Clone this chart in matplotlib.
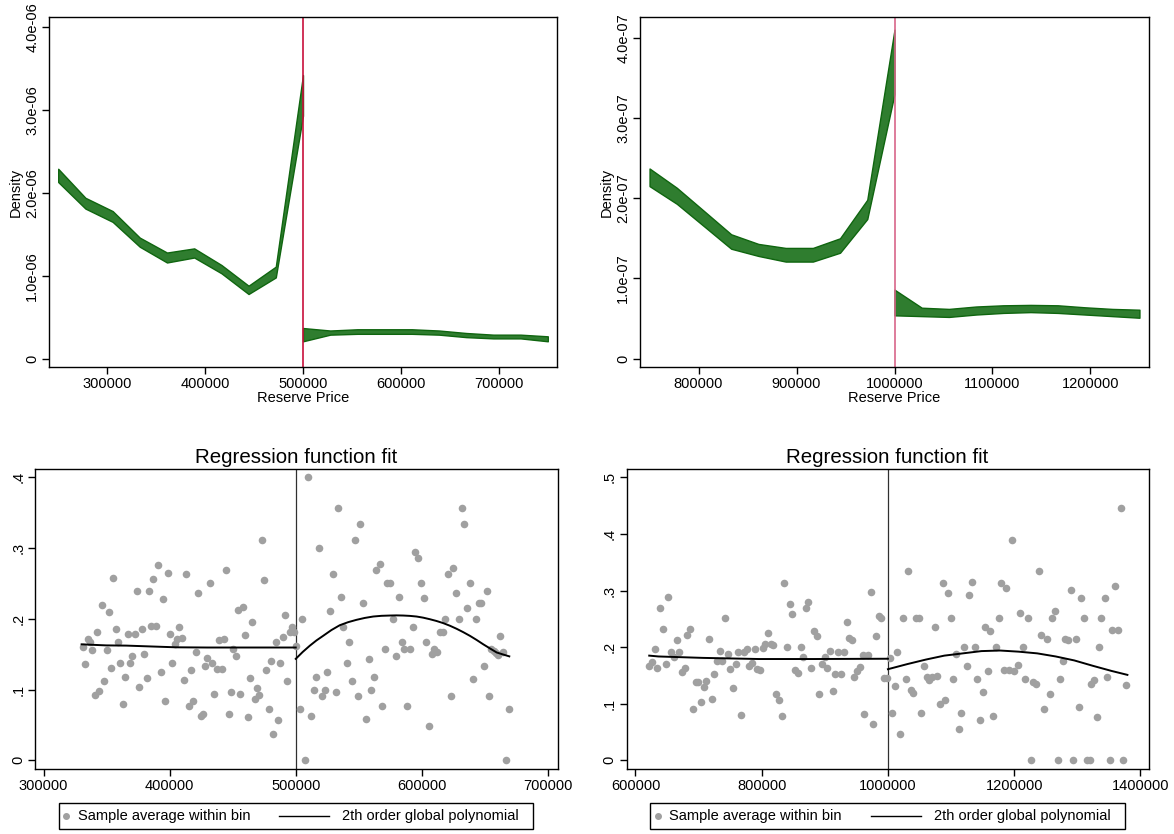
import matplotlib
matplotlib.use('Agg')
import matplotlib.pyplot as plt
from matplotlib.lines import Line2D
from matplotlib.patches import Rectangle

plt.rcParams['font.family'] = ['Liberation Sans', 'DejaVu Sans']

# ---------------- Top-left density (cutoff 500000) ----------------
tl_x_below = [250000, 277800, 305600, 333300, 361100, 388900, 416700, 444400, 472200, 500000]
tl_hi_below = [2.29e-6, 1.94e-6, 1.78e-6, 1.46e-6, 1.28e-6, 1.33e-6, 1.13e-6, 0.88e-6, 1.11e-6, 3.42e-6]
tl_lo_below = [2.13e-6, 1.81e-6, 1.65e-6, 1.35e-6, 1.16e-6, 1.22e-6, 1.03e-6, 0.78e-6, 0.98e-6, 2.93e-6]
tl_x_above = [500000, 527800, 555600, 583300, 611100, 638900, 666700, 694400, 722200, 750000]
tl_hi_above = [0.37e-6, 0.34e-6, 0.355e-6, 0.355e-6, 0.355e-6, 0.34e-6, 0.31e-6, 0.29e-6, 0.29e-6, 0.27e-6]
tl_lo_above = [0.21e-6, 0.29e-6, 0.30e-6, 0.30e-6, 0.30e-6, 0.29e-6, 0.26e-6, 0.245e-6, 0.245e-6, 0.21e-6]
tl_xticks = [300000, 400000, 500000, 600000, 700000]
tl_yticks = [0, 1e-6, 2e-6, 3e-6, 4e-6]
tl_ylabels = ['0', '1.0e-06', '2.0e-06', '3.0e-06', '4.0e-06']

# ---------------- Top-right density (cutoff 1000000) ----------------
tr_x_below = [750000, 777800, 805600, 833300, 861100, 888900, 916700, 944400, 972200, 1000000]
tr_hi_below = [2.37e-7, 2.13e-7, 1.84e-7, 1.55e-7, 1.43e-7, 1.38e-7, 1.38e-7, 1.50e-7, 1.98e-7, 4.10e-7]
tr_lo_below = [2.15e-7, 1.93e-7, 1.65e-7, 1.37e-7, 1.28e-7, 1.21e-7, 1.21e-7, 1.32e-7, 1.74e-7, 3.30e-7]
tr_x_above = [1000000, 1027800, 1055600, 1083300, 1111100, 1138900, 1166700, 1194400, 1222200, 1250000]
tr_hi_above = [0.86e-7, 0.635e-7, 0.62e-7, 0.65e-7, 0.665e-7, 0.67e-7, 0.665e-7, 0.64e-7, 0.62e-7, 0.61e-7]
tr_lo_above = [0.54e-7, 0.53e-7, 0.52e-7, 0.55e-7, 0.57e-7, 0.58e-7, 0.57e-7, 0.55e-7, 0.53e-7, 0.51e-7]
tr_xticks = [800000, 900000, 1000000, 1100000, 1200000]
tr_yticks = [0, 1e-7, 2e-7, 3e-7, 4e-7]
tr_ylabels = ['0', '1.0e-07', '2.0e-07', '3.0e-07', '4.0e-07']

# ---------------- Bottom-left regression (cutoff 500000) ----------------
bl_x = [331200, 333100, 334900, 337000, 338600, 340500, 342300, 344200, 346000, 347900,
        350000, 351900, 353400, 355300, 357100, 359000, 360800, 363000, 364800, 366700,
        368500, 370400, 372200, 374100, 375900, 377800, 379600, 381700, 383600, 385200,
        387000, 389200, 390700, 392900, 394700, 396600, 398400, 400300, 402100, 404000,
        405800, 407700, 409500, 411400, 413200, 415300, 417200, 418800, 420600, 422500,
        424900, 426500, 428000, 429900, 432000, 433900, 435500, 437300, 439400, 441300,
        443100, 445000, 446800, 448700, 450500, 452400, 454200, 456100, 457900, 459800,
        461900, 463800, 465300, 467500, 469300, 471200, 473000, 474900, 476700, 478600,
        480400, 482300, 484100, 486000, 487800, 489700, 491500, 493400, 495200, 497100,
        498900, 499800,
        503200, 505300, 507400, 509800, 512200, 514300, 516100, 518500, 520600, 522800,
        525100, 527200, 529400, 531700, 533600, 535700, 537800, 540500, 542300, 544400,
        546800, 549000, 551100, 553200, 555600, 557700, 559500, 561900, 564000, 566400,
        568500, 570900, 572500, 574900, 577200, 579400, 581500, 583900, 586000, 588100,
        590200, 592900, 594700, 596800, 599000, 601300, 603200, 605300, 607700, 609800,
        612000, 614000, 616400, 618500, 620600, 622800, 624900, 627200, 629600, 631700,
        633600, 636000, 638400, 640200, 642600, 645000, 646600, 648900, 651300, 653400,
        655000, 656900, 658500, 660100, 661900, 664300, 666400, 668800]
bl_y = [0.160, 0.136, 0.172, 0.168, 0.156, 0.092, 0.182, 0.098, 0.219, 0.112,
        0.156, 0.209, 0.130, 0.258, 0.185, 0.167, 0.138, 0.080, 0.118, 0.178,
        0.138, 0.147, 0.178, 0.239, 0.103, 0.186, 0.151, 0.116, 0.239, 0.190,
        0.256, 0.190, 0.276, 0.125, 0.228, 0.084, 0.265, 0.178, 0.137, 0.164,
        0.172, 0.188, 0.173, 0.114, 0.264, 0.077, 0.128, 0.084, 0.153, 0.236,
        0.063, 0.065, 0.133, 0.144, 0.250, 0.138, 0.094, 0.129, 0.170, 0.129,
        0.171, 0.269, 0.065, 0.097, 0.158, 0.147, 0.212, 0.094, 0.217, 0.177,
        0.061, 0.116, 0.196, 0.087, 0.102, 0.093, 0.312, 0.255, 0.128, 0.073,
        0.141, 0.037, 0.167, 0.057, 0.138, 0.175, 0.205, 0.112, 0.181, 0.189,
        0.181, 0.162,
        0.072, 0.200, 0.000, 0.400, 0.063, 0.100, 0.118, 0.300, 0.091, 0.100,
        0.125, 0.211, 0.263, 0.096, 0.357, 0.231, 0.188, 0.137, 0.167, 0.112,
        0.312, 0.091, 0.334, 0.222, 0.059, 0.143, 0.100, 0.118, 0.269, 0.278,
        0.077, 0.158, 0.250, 0.250, 0.200, 0.148, 0.231, 0.167, 0.158, 0.077,
        0.158, 0.188, 0.295, 0.286, 0.250, 0.229, 0.167, 0.048, 0.150, 0.158,
        0.153, 0.182, 0.182, 0.200, 0.263, 0.091, 0.272, 0.236, 0.200, 0.357,
        0.334, 0.215, 0.250, 0.115, 0.200, 0.222, 0.222, 0.134, 0.240, 0.091,
        0.158, 0.154, 0.152, 0.149, 0.176, 0.153, 0.000, 0.072]
bl_fit_left_x = [330200, 339200, 349700, 365600, 385000, 405000, 430000, 460000, 500000]
bl_fit_left_y = [0.164, 0.1633, 0.1625, 0.1622, 0.161, 0.1598, 0.1595, 0.1595, 0.1595]
bl_fit_right_x = [500000, 505500, 511100, 516400, 521700, 528300, 534900, 541500, 548100,
                  554700, 561400, 568000, 574600, 579900, 585200, 590500, 595800, 601000,
                  606300, 611600, 616900, 622200, 627500, 632800, 638100, 643400, 648700,
                  654000, 659300, 664300, 669300]
bl_fit_right_y = [0.1435, 0.1532, 0.162, 0.1695, 0.176, 0.1842, 0.191, 0.1953, 0.1986,
                  0.2013, 0.2033, 0.2043, 0.2047, 0.2049, 0.2047, 0.2042, 0.2033, 0.2017,
                  0.1995, 0.1970, 0.194, 0.1903, 0.186, 0.1812, 0.176, 0.1702, 0.164,
                  0.1582, 0.1525, 0.1497, 0.147]
bl_xticks = [300000, 400000, 500000, 600000, 700000]
bl_yticks = [0, 0.1, 0.2, 0.3, 0.4]
bl_ylabels = ['0', '.1', '.2', '.3', '.4']

# ---------------- Bottom-right regression (cutoff 1000000) ----------------
br_x = [622200, 626500, 630700, 634900, 639200, 643900, 648100, 651900, 656100, 660800,
        665100, 669300, 673500, 677800, 682000, 685700, 691000, 695200, 699500, 703700,
        707900, 711600, 716400, 720600, 724900, 729100, 733300, 737600, 741800, 746000,
        750300, 754500, 759300, 763000, 767700, 771400, 776200, 780400, 784100, 788900,
        793100, 797400, 801600, 805800, 810100, 814300, 818500, 823300, 827500, 831700,
        836000, 840200, 844400, 848700, 852900, 857100, 861900, 866100, 869800, 874100,
        878800, 883100, 887300, 891500, 895800, 900000, 904200, 908500, 912700, 916900,
        921200, 925900, 930200, 934400, 938100, 942400, 946600, 950800, 955600, 959800,
        962400, 968300, 972500, 976700, 981000, 985200, 989400, 993700, 997900,
        1003200, 1006300, 1010600, 1014800, 1019000, 1023300, 1028000, 1032300, 1036000, 1040200,
        1043900, 1049200, 1052900, 1057100, 1061400, 1065600, 1069800, 1074600, 1078300, 1082500,
        1086800, 1091000, 1095200, 1099500, 1103700, 1107900, 1112200, 1116400, 1120600, 1125400,
        1128600, 1133300, 1138100, 1141300, 1146000, 1150300, 1154500, 1158200, 1162400, 1167200,
        1171400, 1175700, 1179900, 1183600, 1187800, 1192100, 1196300, 1200500, 1205300, 1209500,
        1213800, 1217500, 1221700, 1226500, 1229600, 1235000, 1239700, 1242900, 1247600, 1251300,
        1256600, 1260300, 1264600, 1268800, 1273000, 1277200, 1280900, 1285200, 1289900, 1293700,
        1297900, 1302600, 1305800, 1310600, 1315300, 1319600, 1321800, 1325900, 1330600, 1334100,
        1338200, 1343500, 1347100, 1352400, 1355300, 1360000, 1364100, 1368800, 1372900, 1376500]
br_y = [0.167, 0.174, 0.196, 0.163, 0.269, 0.232, 0.170, 0.288, 0.191, 0.182,
        0.213, 0.191, 0.156, 0.164, 0.221, 0.232, 0.091, 0.139, 0.139, 0.103,
        0.129, 0.141, 0.214, 0.108, 0.152, 0.175, 0.194, 0.175, 0.251, 0.188,
        0.162, 0.127, 0.170, 0.191, 0.080, 0.191, 0.196, 0.166, 0.172, 0.196,
        0.162, 0.159, 0.199, 0.205, 0.225, 0.205, 0.204, 0.118, 0.106, 0.079,
        0.314, 0.200, 0.276, 0.259, 0.160, 0.154, 0.200, 0.182, 0.270, 0.280,
        0.163, 0.229, 0.219, 0.117, 0.171, 0.183, 0.163, 0.194, 0.122, 0.152,
        0.191, 0.152, 0.191, 0.244, 0.217, 0.213, 0.147, 0.157, 0.165, 0.186,
        0.082, 0.186, 0.297, 0.064, 0.219, 0.255, 0.251, 0.145, 0.145,
        0.180, 0.083, 0.131, 0.192, 0.046, 0.251, 0.143, 0.334, 0.125, 0.119,
        0.251, 0.251, 0.083, 0.167, 0.148, 0.142, 0.148, 0.236, 0.149, 0.100,
        0.313, 0.106, 0.295, 0.251, 0.143, 0.188, 0.055, 0.084, 0.200, 0.166,
        0.292, 0.315, 0.200, 0.143, 0.072, 0.120, 0.236, 0.158, 0.228, 0.078,
        0.200, 0.251, 0.313, 0.160, 0.305, 0.160, 0.389, 0.158, 0.168, 0.261,
        0.200, 0.143, 0.251, 0.000, 0.138, 0.135, 0.334, 0.222, 0.091, 0.214,
        0.118, 0.251, 0.264, 0.000, 0.143, 0.176, 0.215, 0.212, 0.301, 0.000,
        0.214, 0.095, 0.286, 0.251, 0.000, 0.000, 0.134, 0.142, 0.077, 0.200,
        0.251, 0.286, 0.147, 0.000, 0.231, 0.308, 0.231, 0.445, 0.000, 0.133]
br_fit_left_x = [621800, 636500, 707100, 795300, 883500, 1000000]
br_fit_left_y = [0.185, 0.1835, 0.181, 0.179, 0.179, 0.1795]
br_fit_right_x = [1000000, 1030600, 1060000, 1089400, 1118800, 1148200, 1177600, 1207100,
                  1236500, 1265900, 1295300, 1324700, 1354100, 1379400]
br_fit_right_y = [0.161, 0.170, 0.178, 0.185, 0.189, 0.193, 0.194, 0.192,
                  0.189, 0.1835, 0.1765, 0.167, 0.158, 0.151]
br_xticks = [600000, 800000, 1000000, 1200000, 1400000]
br_yticks = [0, 0.1, 0.2, 0.3, 0.4, 0.5]
br_ylabels = ['0', '.1', '.2', '.3', '.4', '.5']

legend_labels = ['Sample average within bin', '2th order global polynomial']

FS = 10.5
W, H = 1174, 834
fig = plt.figure(figsize=(W / 100, H / 100), dpi=100)


def px_axes(l, r, t, b):
    return fig.add_axes([l / W, 1 - b / H, (r - l) / W, (b - t) / H])


def style(ax):
    for s in ax.spines.values():
        s.set_linewidth(1.0)
        s.set_color('black')
    ax.tick_params(direction='out', length=5, width=1, labelsize=FS, pad=2)
    for lab in ax.get_yticklabels():
        lab.set_rotation(90)
        lab.set_va('center')


GREEN = '#2f7d2f'
EDGE = '#0f650f'


def density(ax, xb, hb, lb, xa, ha, la, cut, xticks, yticks, ylabels, xlim, ylim, lc):
    ax.fill_between(xb, lb, hb, facecolor=GREEN, edgecolor=EDGE, linewidth=1.0)
    ax.fill_between(xa, la, ha, facecolor=GREEN, edgecolor=EDGE, linewidth=1.0)
    ax.axvline(cut, color=lc, linewidth=1.2)
    ax.set_xlim(*xlim)
    ax.set_ylim(*ylim)
    ax.set_xticks(xticks)
    ax.set_xticklabels([str(v) for v in xticks])
    ax.set_yticks(yticks)
    ax.set_yticklabels(ylabels)
    ax.set_xlabel('Reserve Price', fontsize=FS, labelpad=0)
    ax.set_ylabel('Density', fontsize=FS, labelpad=2)
    style(ax)


ax1 = px_axes(49, 557, 17, 367)
density(ax1, tl_x_below, tl_hi_below, tl_lo_below, tl_x_above, tl_hi_above, tl_lo_above,
        500000, tl_xticks, tl_yticks, tl_ylabels, (240600, 759400), (-0.10e-6, 4.12e-6), '#c8103c')

ax2 = px_axes(640, 1149, 17, 367)
density(ax2, tr_x_below, tr_hi_below, tr_lo_below, tr_x_above, tr_hi_above, tr_lo_above,
        1000000, tr_xticks, tr_yticks, tr_ylabels, (740250, 1259750), (-0.104e-7, 4.258e-7), '#d8668a')


def regression(ax, x, y, flx, fly, frx, fry, cut, xticks, yticks, ylabels, xlim, ylim):
    ax.scatter(x, y, s=30, color='#a0a0a0', linewidths=0, zorder=2)
    ax.plot(flx, fly, color='black', linewidth=1.4, zorder=3)
    ax.plot(frx, fry, color='black', linewidth=1.4, zorder=3)
    ax.axvline(cut, color='#303030', linewidth=0.9, zorder=1)
    ax.set_xlim(*xlim)
    ax.set_ylim(*ylim)
    ax.set_xticks(xticks)
    ax.set_xticklabels([str(v) for v in xticks])
    ax.set_yticks(yticks)
    ax.set_yticklabels(ylabels)
    ax.set_title('Regression function fit', fontsize=14.8, pad=4)
    style(ax)


ax3 = px_axes(35, 558, 469, 769)
regression(ax3, bl_x, bl_y, bl_fit_left_x, bl_fit_left_y, bl_fit_right_x, bl_fit_right_y,
           500000, bl_xticks, bl_yticks, bl_ylabels, (293250, 707930), (-0.0122, 0.4118))

ax4 = px_axes(626.5, 1148.6, 469, 769)
regression(ax4, br_x, br_y, br_fit_left_x, br_fit_left_y, br_fit_right_x, br_fit_right_y,
           1000000, br_xticks, br_yticks, br_ylabels, (585800, 1413000), (-0.0153, 0.5147))


def legend_box(x0, x1, dot_x, t1_x, l0, l1, t2_x):
    y0, y1 = 803, 829
    yc = (y0 + y1) / 2
    fig.add_artist(Rectangle((x0 / W, 1 - y1 / H), (x1 - x0) / W, (y1 - y0) / H,
                             transform=fig.transFigure, facecolor='white',
                             edgecolor='black', linewidth=1.0))
    fig.add_artist(Line2D([dot_x / W], [1 - yc / H], transform=fig.transFigure,
                          marker='o', markersize=4, color='#a0a0a0', linestyle='none'))
    fig.text(t1_x / W, 1 - yc / H, legend_labels[0], fontsize=FS, va='center', ha='left')
    fig.add_artist(Line2D([l0 / W, l1 / W], [1 - yc / H, 1 - yc / H], transform=fig.transFigure,
                          color='black', linewidth=1.0))
    fig.text(t2_x / W, 1 - yc / H, legend_labels[1], fontsize=FS, va='center', ha='left')


legend_box(59, 533, 66, 78, 279, 329, 342)
legend_box(650, 1125, 658, 669, 871, 921, 934)

fig.savefig('out.png', dpi=100)
